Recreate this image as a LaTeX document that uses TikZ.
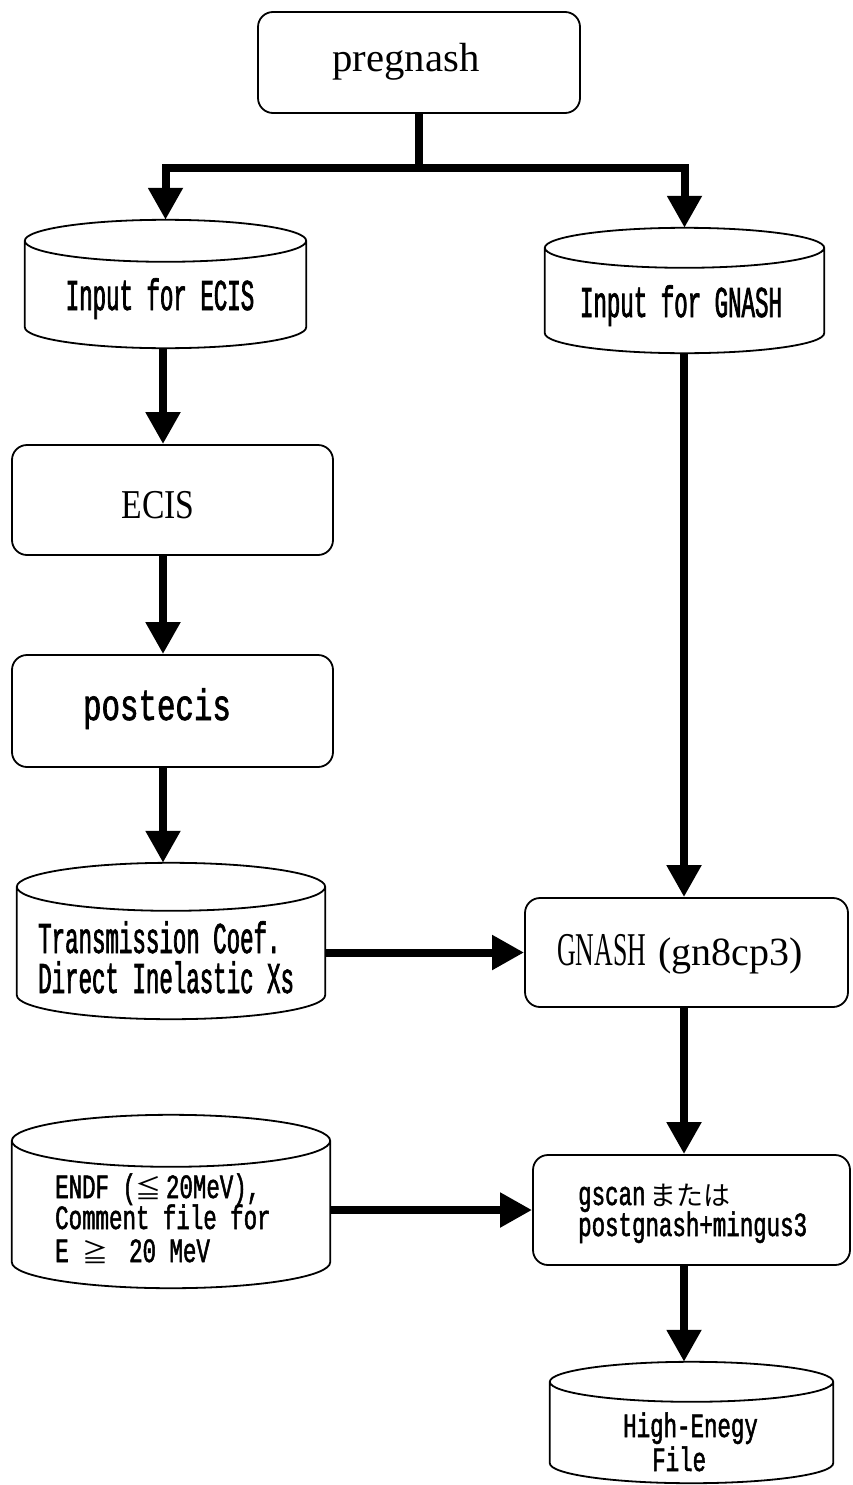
\documentclass[tikz,border=0pt]{standalone}
\usepackage{fontspec}
\setmainfont{Liberation Serif}
\newfontfamily\serifA{Liberation Serif}
\newfontfamily\serifC[FakeStretch=0.82]{Liberation Serif}
\newfontfamily\serifD[FakeStretch=0.55]{Liberation Serif}
\newfontfamily\monoA[FakeStretch=0.51,FakeBold=1.5]{Liberation Mono}
\newfontfamily\monoB[FakeStretch=0.66,FakeBold=1.5]{Liberation Mono}
\newfontfamily\monoC[FakeStretch=0.7,FakeBold=1.5]{Liberation Mono}
\newfontfamily\cjk{Noto Sans CJK JP}
\usetikzlibrary{arrows.meta,calc}
\newcommand\fpreg{\serifA\fontsize{40.7}{44}\selectfont}
\newcommand\fecis{\serifC\fontsize{41}{44}\selectfont}
\newcommand\fpost{\monoC\fontsize{44}{48}\selectfont}
\newcommand\fbig{\monoA\fontsize{44}{48}\selectfont}
\newcommand\fsmall{\monoB\fontsize{34}{36}\selectfont}
\newcommand\fkana{\cjk\fontsize{26}{30}\selectfont}
\newcommand\cylout[2]{\draw[cylline] let \p1=(#1.north west), \p2=(#1.south east), \n1={(\x2-\x1)/2} in (\x1,\y1-#2pt) -- (\x1,\y2+#2pt) arc[start angle=180,end angle=360,x radius=\n1,y radius=#2pt] -- (\x2,\y1-#2pt) arc[start angle=0,end angle=360,x radius=\n1,y radius=#2pt];}
\begin{document}
\begin{tikzpicture}[x=1pt,y=-1pt,
  box/.style={draw, line width=1.8pt, rounded corners=15pt, inner sep=0pt},
  cyl/.style={draw=none, inner sep=0pt},
  txt/.style={inner sep=0pt, anchor=base},
  ltxt/.style={inner sep=0pt, anchor=base west},
  cylline/.style={line width=1.8pt},
  flow/.style={line width=8pt},
  arr/.style={line width=8pt, -{Triangle[width=33pt,length=32pt]}},
  arrs/.style={line width=8pt, {Triangle[width=33pt,length=32pt]}-{Triangle[width=33pt,length=32pt]}},
]
\useasboundingbox (0,0) rectangle (852,1485);
\fill[white] (0,0) rectangle (852,1485);

% rounded boxes
\node[box, minimum width=322pt, minimum height=101pt] (preg) at (419,62.5) {};
\node[box, minimum width=321pt, minimum height=110pt] (ecis) at (172.5,500) {};
\node[box, minimum width=321pt, minimum height=112pt] (post) at (172.5,711) {};
\node[box, minimum width=323pt, minimum height=109pt] (gnash) at (686.5,952.5) {};
\node[box, minimum width=317pt, minimum height=110pt] (gscan) at (691.5,1210) {};

% cylinders
\node[cyl, minimum width=281pt, minimum height=128pt] (inecis) at (165.5,284) {};
\node[cyl, minimum width=279pt, minimum height=125pt] (ingnash) at (684.5,290.5) {};
\node[cyl, minimum width=308pt, minimum height=156pt] (trans) at (171,941) {};
\node[cyl, minimum width=318pt, minimum height=173pt] (endf) at (171,1201.5) {};
\node[cyl, minimum width=283pt, minimum height=121pt] (he) at (691.5,1422.5) {};
\cylout{inecis}{21}
\cylout{ingnash}{20}
\cylout{trans}{24}
\cylout{endf}{26}
\cylout{he}{20}

% texts
\node[txt, font=\fpreg] (tpreg) at (406,72) {pregnash};
\node[txt, font=\fecis] (tecis) at (158,518) {ECIS};
\node[txt, font=\fpost] (tpost) at (157,720) {postecis};
\node[txt] (tgnash) at (680,965) {{\serifD\fontsize{47}{50}\selectfont GNASH}\hspace{12pt}{\serifA\fontsize{40}{44}\selectfont (gn8cp3)}};
\node[txt, font=\fbig] (tinecis) at (160,310) {Input for ECIS};
\node[txt, font=\fbig] (tingnash) at (681,317) {Input for GNASH};
\node[ltxt, font=\fbig] (ttrans1) at (38,953) {Transmission Coef.};
\node[ltxt, font=\fbig] (ttrans2) at (38,993) {Direct Inelastic Xs};
\node[ltxt, font=\fsmall] (tendf1) at (55,1198) {ENDF ({\fkana ≦}\hspace{4pt}20MeV),};
\node[ltxt, font=\fsmall] (tendf2) at (55,1229) {Comment file for};
\node[ltxt, font=\fsmall] (tendf3) at (55,1262) {E {\fkana ≧}\hspace{21pt}20 MeV};
\node[ltxt, font=\fsmall] (tgscan1) at (578,1205) {gscan\hspace{4pt}{\fkana\fontsize{27}{30}\selectfont または}};
\node[ltxt, font=\fsmall] (tgscan2) at (578,1236) {postgnash+mingus3};
\node[ltxt, font=\fsmall] (the1) at (623,1437) {High-Enegy};
\node[ltxt, font=\fsmall] (the2) at (652,1471) {File};

% connectors
\coordinate (jn) at (419,168);
\coordinate (lc) at (163,0);
\coordinate (rc) at (684,0);
\draw[flow] (preg.south) -- (jn);
\draw[arrs] (inecis.north) -- (inecis.north |- jn) -- (ingnash.north |- jn) -- (ingnash.north);
\draw[arr] (inecis.south -| lc) -- (ecis.north -| lc);
\draw[arr] (ecis.south -| lc) -- (post.north -| lc);
\draw[arr] (post.south -| lc) -- (trans.north -| lc);
\draw[arr] (ingnash.south -| rc) -- (gnash.north -| rc);
\draw[arr] (trans.east |- gnash.west) -- (gnash.west);
\draw[arr] (gnash.south -| rc) -- (gscan.north -| rc);
\draw[arr] (endf.east |- gscan.west) -- (gscan.west);
\draw[arr] (gscan.south -| rc) -- (he.north -| rc);
\end{tikzpicture}
\end{document}
